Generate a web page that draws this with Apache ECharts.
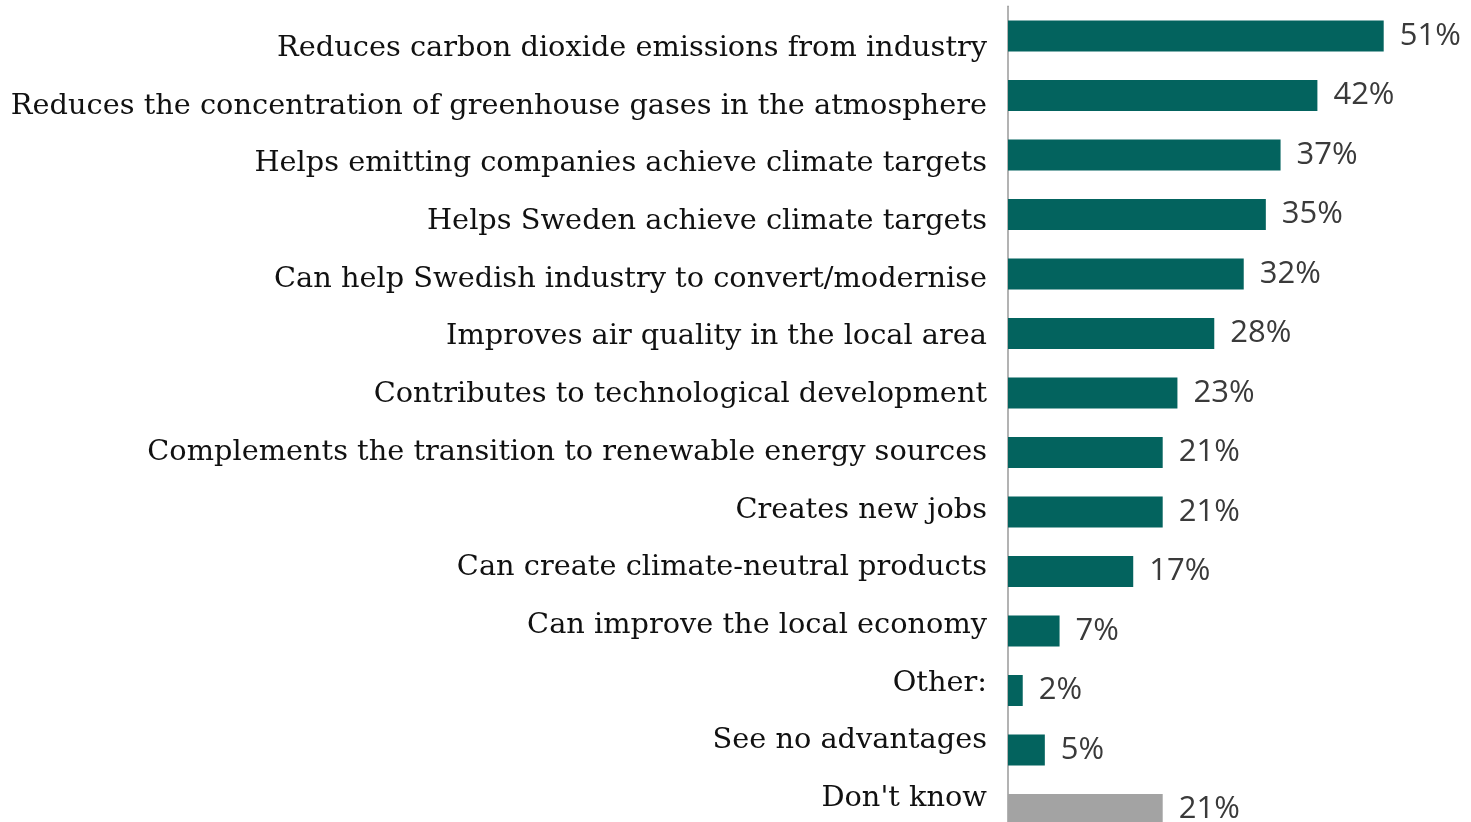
<!DOCTYPE html>
<html>
<head>
<meta charset="utf-8">
<title>Perceived advantages</title>
<script src="https://cdn.jsdelivr.net/npm/echarts@6/dist/echarts.min.js"></script>
<style>
  html, body { margin: 0; padding: 0; background: #ffffff; }
  #chart { width: 1471px; height: 822px; }
</style>
</head>
<body>
<div id="chart"></div>
<script>
// Answer options, listed top to bottom
const categories = [
  "Reduces carbon dioxide emissions from industry",
  "Reduces the concentration of greenhouse gases in the atmosphere",
  "Helps emitting companies achieve climate targets",
  "Helps Sweden achieve climate targets",
  "Can help Swedish industry to convert/modernise",
  "Improves air quality in the local area",
  "Contributes to technological development",
  "Complements the transition to renewable energy sources",
  "Creates new jobs",
  "Can create climate-neutral products",
  "Can improve the local economy",
  "Other:",
  "See no advantages",
  "Don't know"
];

// Share of respondents (%)
const shares = [51, 42, 37, 35, 32, 28, 23, 21, 21, 17, 7, 2, 5, 21];

// Answers that are not an advantage are drawn in grey
const neutralAnswers = ["Don't know"];

const TEAL = "#03635e";
const GREY = "#a3a3a3";

const barData = categories.map((c, i) => ({
  value: shares[i],
  itemStyle: { color: neutralAnswers.includes(c) ? GREY : TEAL }
}));

const chart = echarts.init(document.getElementById("chart"), null, { renderer: "canvas" });

chart.setOption({
  animation: false,
  backgroundColor: "#ffffff",
  grid: [
    // bars (the last row runs past the lower edge)
    { left: 1008, width: 442, top: 6.25, height: 833, containLabel: false, outerBoundsMode: "none" },
    // category text column
    { left: 1008, width: 442, top: 19.5, height: 808, containLabel: false, outerBoundsMode: "none" }
  ],
  xAxis: [
    { gridIndex: 0, type: "value", min: 0, max: 60, show: false },
    { gridIndex: 1, type: "value", min: 0, max: 60, show: false }
  ],
  yAxis: [
    {
      gridIndex: 0,
      type: "category",
      data: categories,
      inverse: true,
      axisLine: { show: true, lineStyle: { color: "#9a9a9a", width: 1.5 } },
      axisTick: { show: false },
      axisLabel: { show: false },
      splitLine: { show: false }
    },
    {
      gridIndex: 1,
      type: "category",
      data: categories,
      inverse: true,
      axisLine: { show: false },
      axisTick: { show: false },
      splitLine: { show: false },
      axisLabel: {
        show: true,
        margin: 21,
        fontFamily: "DejaVu Serif",
        fontSize: 28.8,
        color: "#111111",
        align: "right",
        verticalAlign: "middle"
      }
    }
  ],
  series: [
    {
      type: "bar",
      xAxisIndex: 0,
      yAxisIndex: 0,
      data: barData,
      barWidth: 31,
      label: {
        show: true,
        position: "right",
        distance: 16,
        formatter: "{c}%",
        fontFamily: "Open Sans",
        fontSize: 31,
        color: "#3a3a3a"
      }
    }
  ]
});
</script>
</body>
</html>
